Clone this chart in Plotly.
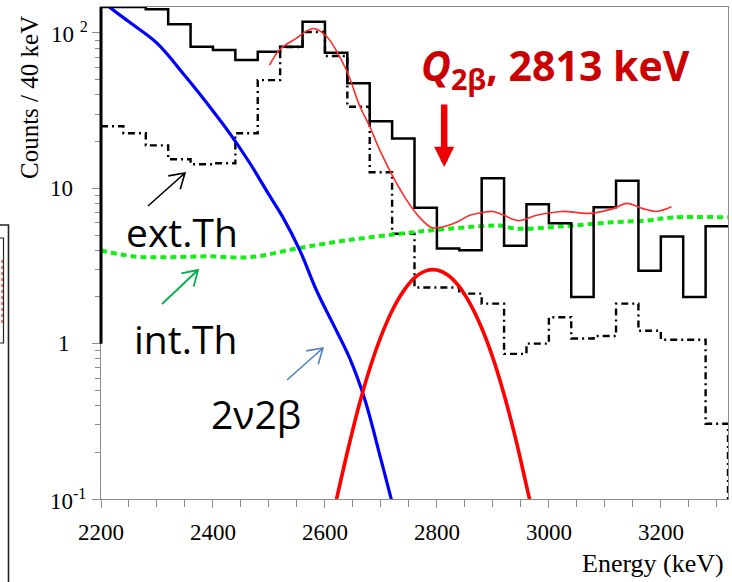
import math
import plotly.graph_objects as go

# ---- data -------------------------------------------------------------
# 40 keV bins, lower edges
bin_lo = list(range(2200, 3320, 40))
bin_hi_last = 3320

# measured spectrum (counts / 40 keV)
data_counts = [147, 147, 142, 114, 81.6, 77.7, 67, 75.8, 81.6, 118, 74.6, 47.4,
               27.0, 20.9, 7.5, 4.1, 4.0, 11.6, 4.27, 7.9, 5.95, 2.0, 7.56, 11.2,
               2.95, 4.9, 2.0, 5.7]

# external thorium background (dash-dot histogram); last entry is the 3320 bin
ext_th_counts = [25.1, 22.6, 18.9, 15.4, 14.3, 14.5, 22.6, 49.7, 81.2, 101.5, 71.1,
                 33.5, 12.7, 5.1, 2.3, 2.3, 2.1, 1.81, 0.86, 1.0, 1.48, 1.08, 1.12,
                 1.81, 1.21, 1.06, 1.06, 0.305, 0.05]

# internal thorium background
int_th_e = [2200, 2257, 2317, 2388, 2466, 2555, 2645, 2734, 2799, 2877, 2913,
            2942, 3025, 3115, 3174, 3222, 3320]
int_th_v = [3.98, 3.65, 3.6, 3.65, 3.6, 4.13, 4.66, 5.1, 5.4, 5.7, 5.76,
            5.5, 5.7, 6.05, 6.2, 6.5, 6.5]

# 2nu2beta spectrum
two_nu_e = [2200, 2215, 2250, 2300, 2350, 2400, 2430, 2466, 2500, 2525, 2555,
            2585, 2614, 2644, 2671, 2700, 2719, 2725]
two_nu_v = [165, 147, 118, 86, 53, 31.5, 22.6, 14.5, 9.1, 6.5, 4.0,
            2.2, 1.35, 0.81, 0.44, 0.18, 0.098, 0.08]

# 0nu2beta signal peak
peak_e = [2620, 2640, 2660, 2680, 2700, 2720, 2740, 2760, 2780, 2800, 2820,
          2840, 2860, 2880, 2900, 2920, 2940, 2960, 2970]
peak_v = [0.097, 0.20, 0.39, 0.69, 1.11, 1.63, 2.17, 2.65, 2.94, 2.98, 2.76,
          2.33, 1.79, 1.26, 0.81, 0.47, 0.25, 0.122, 0.085]

# total fit
fit_e = [2501, 2519, 2548, 2579, 2603, 2638, 2662, 2680, 2698, 2722, 2746, 2769,
         2790, 2805, 2835, 2859, 2883, 2900, 2920, 2945, 2978, 3023, 3073, 3115,
         3139, 3168, 3192, 3219]
fit_v = [62, 78, 92, 107, 95, 58, 34, 25, 17.6, 11.8, 8.4, 6.5,
         5.6, 5.6, 6.05, 6.7, 7.0, 7.1, 6.7, 6.2, 6.7, 7.1, 6.9, 7.4,
         8.0, 7.4, 7.1, 7.6]

Q_KEV = 2813
X_RANGE = [2200, 3320]
Y_MIN, Y_MAX = 0.1, 147

NBSP = "\u00a0"
x_major = list(range(2200, 3201, 200))
x_major_text = [str(v) for v in x_major]
x_minor = [e for e in range(2250, 3320, 50) if e not in x_major]
y_major = [0.1, 1, 10, 100]
y_major_text = ["10<sup>-1</sup>", "1", "10", "10" + NBSP + "<sup>2</sup>"]
y_label_right = [88, 72, 75, 90]          # right edge of each label, px
y_minor = [m * d for d in (0.1, 1, 10) for m in range(2, 10)]

# ---- geometry helpers (pixel -> paper) --------------------------------
W, H = 732, 582
PL, PR, PT, PB = 101, 728, 7, 499
LOG_LO, LOG_HI = math.log10(Y_MIN), math.log10(Y_MAX)


def fx(px):
    return (px - PL) / (PR - PL)


def fy(py):
    return (PB - py) / (PB - PT)


def yfrac(v):
    return (math.log10(v) - LOG_LO) / (LOG_HI - LOG_LO)


def open_arrow(tail, tip, color, width=1.6, head=17, spread=32):
    (x0, y0), (x1, y1) = tail, tip
    ang = math.atan2(y1 - y0, x1 - x0)
    arms = []
    for s in (1, -1):
        a = ang + math.pi + s * math.radians(spread)
        arms.append((x1 + head * math.cos(a), y1 + head * math.sin(a)))
    path = (f"M{fx(x0)},{fy(y0)} L{fx(x1)},{fy(y1)} "
            f"M{fx(arms[0][0])},{fy(arms[0][1])} L{fx(x1)},{fy(y1)} "
            f"L{fx(arms[1][0])},{fy(arms[1][1])}")
    return dict(type="path", xref="paper", yref="paper", path=path,
                line=dict(color=color, width=width))


# ---- traces -----------------------------------------------------------
fig = go.Figure()

ext_x = list(bin_lo) + [3320, 3360]
ext_y = list(ext_th_counts) + [ext_th_counts[-1]]
fig.add_trace(go.Scatter(x=ext_x, y=ext_y, mode="lines", line_shape="hv",
                         line=dict(color="black", width=2.4, dash="7px,4px,2px,4px"),
                         hoverinfo="skip"))

fig.add_trace(go.Scatter(x=int_th_e, y=int_th_v, mode="lines", line_shape="spline",
                         line=dict(color="#14ee14", width=4, dash="6px,4px"),
                         hoverinfo="skip"))

fig.add_trace(go.Scatter(x=two_nu_e, y=two_nu_v, mode="lines", line_shape="spline",
                         line=dict(color="#0000ff", width=3.2), hoverinfo="skip"))

fig.add_trace(go.Scatter(x=peak_e, y=peak_v, mode="lines", line_shape="spline",
                         line=dict(color="#ff0000", width=3.6), hoverinfo="skip"))

data_x = list(bin_lo) + [bin_hi_last]
data_y = list(data_counts) + [data_counts[-1]]
fig.add_trace(go.Scatter(x=data_x, y=data_y, mode="lines", line_shape="hv",
                         line=dict(color="black", width=2.5), hoverinfo="skip"))

fig.add_trace(go.Scatter(x=fit_e, y=fit_v, mode="lines", line_shape="spline",
                         line=dict(color="#ff2a2a", width=1.6), hoverinfo="skip"))

# ---- axes -------------------------------------------------------------
serif = "Liberation Serif"
grey = "#8c8c8c"

fig.update_layout(
    xaxis=dict(range=X_RANGE, showline=True, linecolor=grey, linewidth=1, mirror=True,
               ticks="outside", ticklen=8, tickwidth=1, tickcolor=grey,
               tickmode="array", tickvals=x_major, showticklabels=False,
               showgrid=False, zeroline=False,
               minor=dict(tickvals=x_minor, ticks="outside", ticklen=7,
                          tickcolor=grey, tickwidth=1, showgrid=False)),
    yaxis=dict(type="log", range=[LOG_LO, LOG_HI],
               showline=True, linecolor=grey, linewidth=1, mirror=True,
               ticks="outside", ticklen=8, tickwidth=1, tickcolor=grey,
               tickmode="array", tickvals=y_major, showticklabels=False,
               showgrid=False, zeroline=False,
               minor=dict(tickvals=y_minor, ticks="outside", ticklen=5,
                          tickcolor=grey, tickwidth=1, showgrid=False)),
)

# ---- shapes -----------------------------------------------------------
shapes = [
    # heavy left frame from 1 count up to the top
    dict(type="line", xref="paper", yref="paper", x0=0, x1=0,
         y0=yfrac(1), y1=1, line=dict(color="black", width=3)),
    open_arrow((148, 206), (185, 173), "black", width=1.6, head=17),
    open_arrow((162, 304), (198, 270), "#00b050", width=1.8, head=17),
    open_arrow((287, 380), (323, 348), "#4f81bd", width=1.6, head=17),
    # neighbouring panel at the left edge
    dict(type="rect", xref="paper", yref="paper", x0=fx(-20), x1=fx(8.5),
         y0=fy(600), y1=fy(225), line=dict(color="#222", width=1.6)),
    dict(type="rect", xref="paper", yref="paper", x0=fx(-20), x1=fx(3.5),
         y0=fy(343), y1=fy(238), line=dict(color="#222", width=1.2)),
    dict(type="line", xref="paper", yref="paper", x0=fx(2), x1=fx(2),
         y0=fy(323), y1=fy(260), line=dict(color="#e05050", width=1.5, dash="dot")),
]

# ---- annotations ------------------------------------------------------
label_font = "Open Sans"
annotations = [
    dict(text="<b><i>Q</i><sub>2β</sub>, 2813 keV</b>", xref="paper", yref="paper",
         x=fx(555), y=fy(67), xanchor="center", yanchor="middle", showarrow=False,
         font=dict(family=label_font, size=41, color="#cc0000")),
    dict(text="", xref="x", yref="paper", x=Q_KEV, y=fy(167), ax=0, ay=-64,
         showarrow=True, arrowhead=2, arrowsize=0.62, arrowwidth=6.5,
         arrowcolor="#ee0000"),
    dict(text="ext.Th", xref="paper", yref="paper", x=fx(181.5), y=fy(232),
         xanchor="center", yanchor="middle", showarrow=False,
         font=dict(family=label_font, size=39, color="black")),
    dict(text="int.Th", xref="paper", yref="paper", x=fx(185), y=fy(338),
         xanchor="center", yanchor="middle", showarrow=False,
         font=dict(family=label_font, size=39, color="black")),
    dict(text="2ν2β", xref="paper", yref="paper", x=fx(255.5), y=fy(413),
         xanchor="center", yanchor="middle", showarrow=False,
         font=dict(family=label_font, size=39, color="black")),
    dict(text="Counts / 40 keV", xref="paper", yref="paper", x=fx(30), y=fy(98),
         xanchor="center", yanchor="middle", textangle=-90, showarrow=False,
         font=dict(family=serif, size=25, color="black")),
    dict(text="Energy (keV)", xref="paper", yref="paper", x=fx(726), y=fy(563),
         xanchor="right", yanchor="middle", showarrow=False,
         font=dict(family=serif, size=26, color="black")),
]

# y tick labels, placed on the log scale at each decade
for v, txt, right in zip(y_major, y_major_text, y_label_right):
    annotations.append(dict(text=txt, xref="paper", yref="paper", x=fx(right),
                            y=yfrac(v), xanchor="right", yanchor="middle",
                            showarrow=False,
                            font=dict(family=serif, size=23, color="black")))

# x tick labels under each major tick
for v, txt in zip(x_major, x_major_text):
    annotations.append(dict(text=txt, xref="x", yref="paper", x=v, y=fy(532),
                            xanchor="center", yanchor="middle", showarrow=False,
                            font=dict(family=serif, size=23, color="black")))

fig.update_layout(width=W, height=H, margin=dict(l=PL, r=W - PR, t=PT, b=H - PB),
                  paper_bgcolor="white", plot_bgcolor="white", showlegend=False,
                  shapes=shapes, annotations=annotations)

fig.write_html("out.html")
